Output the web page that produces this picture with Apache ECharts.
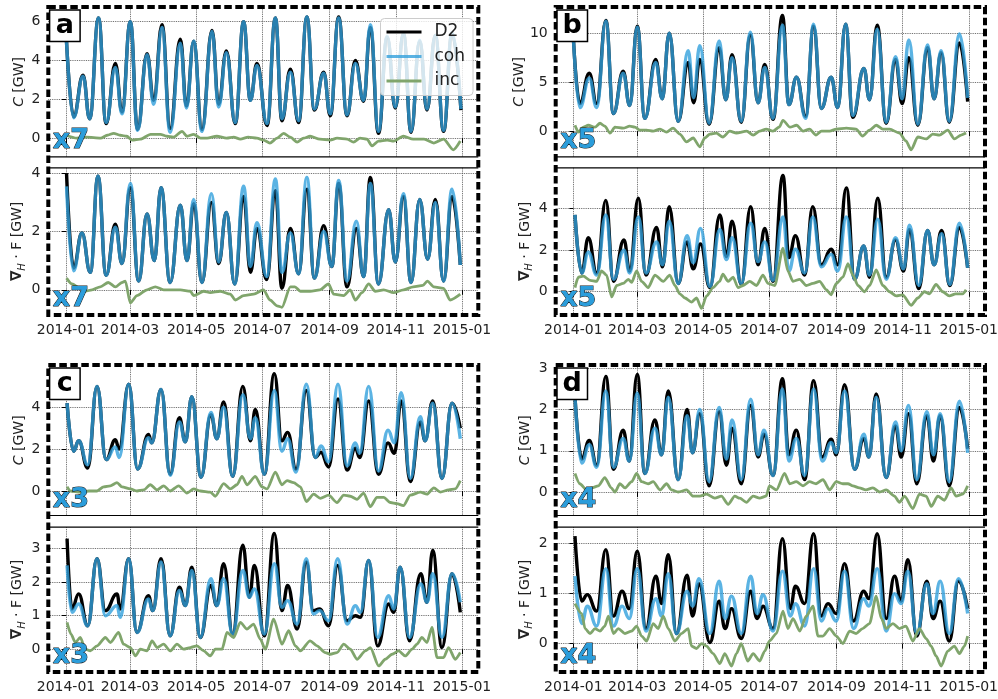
<!DOCTYPE html>
<html><head><meta charset="utf-8">
<script src="https://cdn.jsdelivr.net/npm/echarts@6/dist/echarts.min.js"></script>
<style>html,body{margin:0;padding:0;background:#fff}#c{width:998px;height:699px}</style>
</head><body><div id="c"></div>
<script>
// x axis: days since 2014-01-01
const monthDays = [0,59,120,181,243,304,365];
const monthLabels = ['2014-01','2014-03','2014-05','2014-07','2014-09','2014-11','2015-01'];
const seriesNames = ['D2','coh','inc'];

// rows: [day, D2, coh]
const aC = [[0,5.5,5.5],[7,1.1,1.05],[15.7,3.25,3.2],[21.8,1.0,1.0],[30,6.2,6.2],[37,0.75,0.8],[45.5,3.85,3.65],[51.6,1.35,1.25],[59.3,6.0,6.0],[66,0.45,0.4],[74.7,4.35,4.3],[80.8,1.95,1.75],[88.5,5.85,5.7],[96,0.5,0.3],[105.4,5.1,4.9],[111,1.65,1.55],[117.7,5.0,5.0],[125.3,0.45,0.35],[134.6,5.55,5.5],[140.7,1.75,1.6],[147.8,4.5,4.4],[156,0.75,0.8],[163.7,6.0,6.0],[169.9,1.95,1.95],[176,3.85,3.75],[185.3,0.65,0.75],[193,6.2,6.2],[199,0.9,1.0],[206.8,3.55,3.4],[214.4,0.8,0.9],[222,6.25,6.25],[228.9,1.45,1.5],[237.5,3.4,3.35],[243.6,1.15,1.25],[251.3,6.25,6.2],[259,1.15,1.2],[266.7,4.0,3.85],[274.3,1.9,1.95],[280.5,5.7,5.85],[288,0.25,0.35],[296,5.2,5.25],[303.5,1.55,1.6],[311,5.4,5.4],[318,0.3,0.35],[326,5.0,5.05],[332.7,1.45,1.5],[340.4,5.3,5.3],[348,0.35,0.4],[355.8,5.4,5.45],[364,1.45,1.5]];
const aC_inc = [[0,0.15],[10,0],[19,0.05],[32,0],[38,0.15],[44,0.25],[50,0.15],[56,0.1],[61,-0.1],[68.5,-0.05],[78,0.2],[87,0.2],[93,0.1],[99,0.05],[107,0.35],[111.5,0.1],[117.7,0.2],[124,0],[130,0],[139,0.1],[148,0],[154.5,0.05],[160.7,-0.05],[168,0.05],[176,0],[182,-0.1],[188,-0.25],[194.5,0],[200.6,0.25],[206.8,0.05],[213,-0.2],[219,0],[225,0.1],[234,-0.05],[243.6,-0.1],[249.8,0],[259,-0.05],[265,-0.2],[271,0],[277.4,-0.05],[282,-0.4],[288,-0.15],[296,-0.1],[302,-0.15],[311,0.1],[320,-0.05],[330,-0.05],[339,-0.25],[348,-0.05],[357,-0.6],[363.4,-0.15]];

const aF = [[0.5,4.0,3.55],[7,0.75,0.65],[14.7,1.95,1.95],[22.4,0.6,0.6],[29.5,3.9,3.9],[37,0.5,0.5],[45.5,2.25,2.15],[51.6,0.9,0.9],[59.3,3.5,3.65],[67,0.3,0.3],[74.7,2.6,2.6],[81.4,1.0,1.0],[87.6,3.5,3.5],[96,0.25,0.25],[105.4,2.9,2.9],[111.5,1.0,1.0],[117.7,2.95,3.1],[125.3,0.25,0.25],[134,3.0,3.3],[140.7,0.9,0.95],[147.8,2.65,2.65],[155.5,0.2,0.2],[163.7,3.2,3.55],[170,0.6,0.8],[176,2.1,2.3],[185,0.35,0.45],[193,3.4,3.8],[199,0.05,0.6],[206.8,2.1,1.95],[214.4,0.55,0.55],[222,3.45,3.85],[229,0.4,0.4],[237.5,2.2,2.0],[245,0.8,0.8],[251.3,3.65,3.75],[259,0.1,0.3],[267.6,2.1,2.35],[274.3,0.45,0.45],[280.5,3.85,3.65],[288,0.2,0.2],[297.4,2.75,2.75],[303.5,0.95,0.95],[311,3.2,3.3],[318,0.25,0.25],[326,3.1,3.1],[333.3,1.05,1.05],[340.4,3.1,3.0],[348,0.3,0.3],[355.8,3.2,3.45],[363.4,0.85,0.85]];
const aF_inc = [[0.5,0.4],[5.5,0.2],[13,0.05],[18,-0.05],[24,0],[31.6,0.1],[39,0.25],[45.5,0.1],[51.6,0.25],[54.7,0.3],[59.3,-0.45],[65.4,-0.2],[74.7,0],[82.3,0.1],[90,0],[96,0],[105.4,0],[114.6,-0.05],[117.7,-0.2],[127,-0.05],[133,-0.1],[142,-0.05],[151.5,-0.15],[156,-0.35],[163.7,-0.2],[173,-0.15],[182,0],[188,-0.35],[194.5,-0.55],[199,-0.6],[206.8,0.1],[211,0.1],[216,-0.05],[225,-0.05],[234,0],[242,0.2],[246.7,-0.15],[256,-0.2],[262,0],[266.7,-0.35],[272.8,-0.1],[279,0.2],[285,-0.05],[292.8,0],[302,-0.1],[311,0],[320,0.1],[329,0.15],[333,0.3],[339,0.1],[348,0.05],[354,-0.35],[363.4,-0.15]];

const bC = [[0,9.5,9.5],[6,2.8,2.4],[14.7,5.9,5.4],[21.5,2.8,2.4],[30,11.3,11.2],[37,1.8,1.8],[46,6.1,5.9],[52,2.6,2.6],[59,10.7,10.6],[66,1.3,1.3],[76,7.3,7.0],[82,3.3,3.3],[88.5,10.0,10.0],[96.8,1.0,1.0],[106,7.0,8.2],[111,2.9,3.4],[116.7,7.3,8.7],[125.3,0.7,0.8],[134.6,8.5,9.2],[140.7,3.2,3.2],[146.5,7.8,7.5],[155,0.9,1.0],[163.4,9.8,10.1],[170.5,2.9,2.9],[176.7,6.8,6.5],[184.3,1.2,1.3],[193,11.8,10.8],[199,2.7,2.7],[206,5.5,5.5],[214.4,1.5,1.3],[221.8,10.7,10.9],[228.9,2.3,2.3],[238,5.5,5.5],[244,2.4,2.4],[251.3,10.9,10.9],[258,1.4,1.6],[268.2,6.4,6.4],[273.4,3.2,3.2],[280.5,10.8,10.4],[288.8,0.8,0.9],[297.4,7.3,7.6],[303.5,2.8,3.3],[309.7,7.5,9.3],[318,0.6,0.7],[327,8.5,8.8],[333,3.3,3.3],[339.5,8.0,8.2],[347,0.9,1.0],[356.4,9.0,9.9],[364,3.0,3.4]];
const bC_inc = [[1.5,0.6],[4.6,-0.1],[9.2,0.4],[13.8,0.6],[20,0.4],[24.6,0.8],[29,0.5],[33.8,-0.2],[38.4,0.4],[46,0.3],[52,0.5],[56.8,0.4],[61.4,0.1],[67.6,0.1],[73.7,0],[80,0.2],[86,-0.1],[92,0.3],[98.3,-0.3],[104.5,-1.1],[110.6,-0.7],[116.7,-1.6],[121.4,-0.7],[126,-0.3],[132,-0.2],[138,-0.6],[144.4,0],[150.5,-0.2],[160,0],[166,-0.4],[172,0],[178,0.2],[184.3,0],[190,0.4],[193.5,1.1],[200,0.4],[206,0.6],[212,0],[218,0.2],[224,-0.4],[229,0],[236.6,0],[242.7,0.2],[252,0.3],[261,0.2],[267,-0.5],[273.4,0.1],[279.6,0.6],[285.7,0.2],[292,0.2],[301,-0.2],[307,-1.0],[311.8,-1.9],[318,-0.6],[325.8,-0.8],[331.8,-0.3],[338,-0.4],[345.6,0.1],[351.7,-0.8],[357.9,-0.4],[362.5,-0.2]];

const bF = [[1.5,3.7,3.7],[7.7,0.9,0.9],[13.8,2.6,1.9],[21.5,0.9,0.8],[30,4.4,3.7],[37,0.5,0.6],[46.7,2.5,2.0],[52,1.0,0.9],[60,4.5,3.6],[67,0.8,0.9],[76.8,3.1,2.4],[82.3,1.2,1.3],[88.5,4.1,3.4],[96.8,0.4,0.4],[105,2.4,2.7],[110.6,1.1,1.4],[117.4,2.3,3.05],[126,0.2,0.25],[135.2,3.7,3.0],[141.3,1.7,1.55],[146.5,3.4,2.6],[155,0.35,0.4],[163.7,4.1,3.3],[170.5,1.3,1.45],[176.7,3.05,2.4],[184.3,0.5,0.55],[193.5,5.6,3.6],[199,1.65,1.0],[205,2.7,2.05],[213.5,0.8,0.9],[221,4.1,3.6],[229,1.3,1.2],[238,2.05,1.8],[244,1.3,1.0],[252,5.0,3.6],[259.6,0.6,0.6],[268,2.2,2.2],[273.4,0.7,0.8],[281,4.5,3.5],[288.8,0.7,0.6],[297.4,2.5,2.6],[304.8,1.0,1.1],[310.3,3.0,3.2],[318.8,0.15,0.3],[327,2.95,2.95],[333,1.3,1.3],[340,2.95,2.8],[347.5,0.3,0.35],[356.4,3.1,3.3],[364,1.15,1.15]];
const bF_inc = [[1.5,0.2],[4.6,0.7],[9.2,0.75],[15.4,0.55],[21.5,0.5],[26,1.0],[30.7,0.8],[35.3,-0.25],[40,0.3],[46,0.4],[50.7,0.6],[53.8,0.45],[58.4,1.0],[63,0.5],[69,0.2],[75.3,0.8],[83,0.5],[89,0.8],[93.7,0.3],[98.3,-0.1],[103,-0.3],[109,-0.5],[113.7,-0.3],[118.3,-0.8],[123,-0.2],[129,0.2],[135,0.5],[138,0.85],[142.9,0.5],[147.5,0.7],[152,0.2],[156.7,0.3],[162.8,0.5],[169,0.3],[175,0.8],[179.7,0.4],[185.9,0.3],[193.5,2.1],[198,1.0],[202.8,0.5],[209,0.6],[215,0.3],[221.2,0.4],[227.3,0.5],[233.5,0.1],[238,-0.15],[242.7,0.4],[248.8,0.7],[253.5,1.35],[258,0.8],[262.7,0.3],[268.8,0],[273.4,0.3],[279.6,1.05],[285.7,0.3],[291.9,0],[298,-0.2],[304,-0.15],[311.8,-0.65],[318,-0.3],[324,0],[328.7,-0.1],[334.8,0.35],[341,0],[347,-0.2],[353,-0.1],[359.4,-0.1],[362.5,0.1]];

const cC = [[1,4.2,4.2],[7,1.9,1.9],[11.7,2.4,2.4],[20,1.1,1.25],[28.6,5.0,5.0],[37,1.5,1.5],[45.5,2.45,2.1],[49,2.0,1.6],[57.8,5.1,5.1],[66,1.05,1.05],[76,2.7,2.55],[79,2.3,2.3],[87.6,4.85,4.85],[96,0.8,0.75],[104.5,3.5,3.3],[110,2.35,2.35],[116,4.5,4.5],[124.4,0.65,0.65],[133.6,3.65,3.75],[139,2.5,2.5],[145.3,4.25,4.0],[153.6,0.7,0.7],[163,5.0,4.6],[170,2.4,2.5],[174.5,3.9,3.5],[182.8,0.8,0.8],[192,5.6,4.8],[199,2.4,1.9],[204.3,2.8,2.5],[212,1.05,0.9],[221.5,4.8,5.1],[229.8,1.6,1.6],[235,1.85,2.15],[242,1.15,1.4],[250.7,4.4,5.1],[259,1.0,1.2],[266.7,2.05,2.3],[270.7,1.6,1.8],[279,4.3,5.0],[288,0.8,0.95],[296.8,2.3,2.9],[302.6,1.8,2.3],[309,4.3,4.7],[317.4,0.45,0.6],[326.6,3.3,3.55],[331,2.4,2.4],[338,4.3,4.2],[346.5,0.6,0.6],[355.8,4.2,4.2],[363.4,3.0,2.5]];
const cC_inc = [[1,0.2],[4,0],[13,-0.05],[21,0],[28.6,0],[34.7,0.2],[40.9,0.25],[47,0.4],[51.6,0.2],[59.3,0.1],[65.4,0],[71.6,0.05],[77.7,0.3],[83.9,0.05],[90,0.25],[96,0],[103.8,0.25],[111.5,-0.1],[117.7,0.1],[123.8,0],[133,-0.05],[137.6,-0.25],[145.3,0.35],[151.5,0.1],[157.6,0.3],[162.2,0.7],[166.8,0.3],[174.5,0.7],[180.6,0.2],[185.3,0.1],[193,0.9],[199,0.3],[203.7,0.5],[209.8,0.4],[216,0.2],[221.5,-0.5],[228.3,-0.15],[234.4,-0.35],[242,-0.2],[249.8,-0.55],[256,-0.2],[262,-0.25],[268.2,-0.4],[274.3,-0.1],[280.5,-0.75],[286.6,-0.3],[292.8,-0.3],[299,-0.55],[305,-0.6],[311,-0.7],[317.4,-0.2],[326.6,-0.05],[332.7,-0.15],[339,0.15],[345,-0.05],[352.6,0.05],[358.7,0.1],[363.4,0.5]];

const cF = [[1,3.3,2.5],[5.5,1.2,1.1],[11.7,1.65,1.35],[20,0.7,0.7],[28.6,2.7,2.7],[36.3,1.15,1.0],[47,1.65,1.3],[50,1.2,0.95],[57.8,2.7,2.7],[65.4,0.5,0.5],[76,1.6,1.5],[80,1.15,1.15],[87.6,2.7,2.6],[96,0.4,0.4],[104.5,1.85,1.75],[110,1.3,1.3],[116,2.45,2.35],[123.8,0.35,0.35],[133.6,1.9,2.1],[139,1.3,1.3],[145.3,2.55,2.1],[153.6,0.45,0.45],[163,3.1,2.35],[169,1.55,1.55],[173.6,2.5,1.8],[182.8,0.4,0.45],[192,3.45,2.55],[199,1.15,1.25],[204.3,1.9,1.45],[213,0.6,0.75],[221.5,2.6,2.7],[228,1.15,1.05],[233.8,1.2,1.15],[242,0.7,0.85],[250.4,2.5,2.7],[259,0.85,0.75],[266.7,1.0,1.3],[271.3,0.95,1.1],[279,2.65,2.65],[287.2,0.1,0.35],[297.4,1.35,1.6],[302,1.1,1.2],[308,2.45,2.45],[316.6,0.25,0.35],[327,2.25,1.95],[332.7,1.4,1.4],[338,2.95,2.25],[346.5,0.05,0.35],[355.8,2.25,2.25],[363.4,1.1,1.4]];
const cF_inc = [[1,0.8],[4.6,0.45],[8.6,0.2],[13.2,0.35],[17.8,0],[22.4,-0.05],[28.6,0.1],[36.3,0.35],[40.9,0.2],[48.5,0.5],[53,0.15],[59.3,0.05],[64,-0.2],[68.5,0],[74.7,-0.05],[79.3,0.25],[83.9,0.05],[90,0.15],[96,-0.05],[102.3,0.15],[108.4,0],[114.6,0.05],[120.7,0.1],[126.9,-0.05],[133,-0.2],[137.6,0],[143.8,0],[148.4,0.5],[154.5,0.35],[160.7,0.8],[166.8,0.6],[172.9,0.75],[179,0.3],[183.7,0],[191.4,0.9],[199,0.15],[205.2,0.55],[211.4,0.1],[216,-0.05],[225,0.25],[231.3,0.1],[239,-0.1],[243.6,-0.15],[249.8,-0.1],[256,0.15],[262,0],[268.2,-0.3],[275.9,-0.05],[280.5,0.05],[288.2,-0.5],[294.3,-0.3],[300.5,-0.15],[306.6,-0.05],[312.7,-0.2],[319,0],[323.5,0.15],[328,0.35],[332.7,0.2],[337.3,0.65],[342,-0.25],[348,-0.25],[352.6,0.05],[358.7,-0.3],[363.4,-0.1]];

const dC = [[1.5,2.3,2.3],[7.7,0.8,0.7],[14.7,1.25,1.15],[21.5,0.65,0.6],[30,2.8,2.45],[37,0.55,0.6],[46,1.5,1.3],[51.6,0.75,0.75],[59,2.85,2.4],[66,0.45,0.45],[75.3,1.75,1.55],[81.4,0.9,0.9],[87.6,2.45,2.3],[96.8,0.3,0.3],[105,2.0,1.85],[110,0.95,0.95],[116.7,1.9,2.0],[125.3,0.15,0.25],[134.6,1.95,2.05],[141.3,0.65,0.8],[146.5,1.55,1.75],[155,0.2,0.3],[163.7,2.1,2.25],[170.5,0.85,0.9],[176,1.4,1.5],[184.3,0.4,0.4],[193,2.75,2.5],[199,0.9,0.75],[205.8,1.5,1.3],[213.5,0.3,0.4],[221.8,2.7,2.5],[229.8,0.85,0.75],[238,1.28,1.2],[242.7,0.9,0.95],[250.4,2.6,2.45],[259.6,0.55,0.55],[268.2,1.3,1.4],[272.8,0.85,0.85],[279.6,2.38,2.3],[288.8,0.35,0.35],[297.4,1.6,1.7],[302.6,0.85,1.0],[309.4,1.9,2.1],[317,0.2,0.3],[326.3,1.85,1.95],[332.4,0.75,0.9],[338.6,1.85,1.9],[347,0.15,0.25],[356.4,2.05,2.2],[364,1.05,0.95]];
const dC_inc = [[1.5,0.45],[6,0.2],[12.3,0.05],[17,0.1],[23,0.15],[29,0.35],[35,0.1],[38.4,0],[43,0.2],[47.6,0.1],[53.8,0.25],[58.4,0.45],[63,0.25],[69,0.2],[73.7,0.25],[80,0.05],[86,0.2],[90.6,0.05],[96.8,0],[104.5,0.05],[110.6,-0.1],[116.7,-0.1],[122.9,-0.05],[130.6,-0.15],[136.7,-0.1],[142.9,-0.3],[149,-0.1],[153.6,-0.15],[159.8,-0.25],[165.9,-0.1],[172,-0.15],[178,-0.1],[181,0.15],[187.4,0.05],[195,0.45],[199.7,0.2],[205.8,0.25],[212,0.15],[218,0.25],[224,0.2],[230.4,0.3],[236.6,0.05],[242.7,0.25],[248.8,0.2],[253.5,0.2],[258,0.15],[264,0.1],[270,0.05],[276.5,0.1],[282.6,0],[288.8,0.05],[296.5,-0.1],[301,-0.25],[305.7,-0.1],[313.4,-0.4],[319.5,-0.05],[325.7,-0.1],[330.3,-0.35],[336.4,-0.1],[342.5,-0.2],[348.7,0.1],[353.3,-0.1],[359.4,-0.05],[364,0.15]];

const dF = [[1.5,2.15,1.35],[7.7,0.85,0.4],[12.9,0.98,0.75],[21.5,0.65,0.35],[30,1.88,1.5],[37,0.55,0.35],[45,1.05,0.75],[51.6,0.7,0.5],[59,1.85,1.5],[67,0.3,0.25],[76.2,1.35,0.9],[81.4,0.8,0.55],[87.6,1.78,1.4],[95.2,0.2,0.2],[105,1.37,1.05],[110,0.55,0.75],[116,1.2,1.3],[126,0.02,0.2],[134.6,0.85,1.25],[140,0.3,0.5],[146,0.7,0.95],[155,0.1,0.2],[163.7,1.05,1.35],[169.6,0.5,0.6],[175,0.75,0.98],[184.3,0.3,0.25],[193,2.1,1.45],[200.3,0.7,0.55],[205,1.15,0.8],[213.5,0.8,0.35],[221.8,2.2,1.5],[229,0.55,0.45],[235,0.8,0.7],[242.7,0.6,0.45],[250.4,1.6,1.45],[258.7,0.45,0.3],[268,1.05,0.9],[272.8,0.9,0.75],[280.5,2.2,1.5],[288.8,0.5,0.25],[296.5,1.35,1.0],[302.6,0.85,0.8],[308.8,1.68,1.45],[317,0.15,0.2],[326.3,1.25,1.2],[332,0.5,0.6],[338.6,0.85,1.25],[347,0.05,0.2],[355.5,1.25,1.3],[364,0.7,0.6]];
const dF_inc = [[1.5,0.8],[7.7,0.6],[10.8,0.3],[15.4,0.2],[20,0.3],[24.6,0.25],[29,0.35],[32.3,0.55],[37,0.2],[41.5,0.3],[47.6,0.2],[53.8,0.25],[58.4,0.35],[63,0.15],[67.6,0.05],[73.7,0.4],[78.3,0.3],[83,0.55],[87.6,0.3],[93.7,0.05],[99.8,0.2],[106,0.3],[109,-0.05],[113.7,-0.1],[118.3,0],[122.9,-0.05],[129,-0.2],[135.2,-0.4],[139.8,-0.2],[146,-0.45],[150.5,-0.2],[155,0],[161,-0.35],[166,-0.2],[172,-0.35],[176.7,-0.15],[181,0.05],[187.4,0.2],[193.5,0.65],[198,0.3],[202.8,0.5],[209,0.25],[215,0.55],[221.2,0.75],[225.8,0.15],[230.4,0.15],[236.6,0.3],[242.7,0.15],[248.8,0],[255,0.25],[261,0.2],[267,0.3],[273.4,0.4],[279.6,0.95],[284.3,0.5],[288.8,0.3],[295,0.4],[301,0.3],[307,0.35],[313.4,0.05],[319.5,0.3],[325.7,0.1],[330.3,-0.05],[334.8,-0.25],[339.5,-0.45],[345.6,-0.15],[351.7,-0.05],[356.4,-0.2],[361,-0.05],[364,0.15]];

// y tick values per subplot
const ticksAC = [0,2,4,6], ticksAF = [0,2,4], ticksBC = [0,5,10], ticksBF = [0,2,4];
const ticksCC = [0,2,4], ticksCF = [0,1,2,3], ticksDC = [0,1,2,3], ticksDF = [0,1,2];
const panelLetters = ['a','b','c','d'];
const scaleLabels = ['x7','x5','x3','x4'];

const FONT = 'DejaVu Sans';
const TXT = '#222';
const colL = {left:48.3, width:430};
const colR = {left:555.7, width:429.3};
const rowsTop = [{top:7, height:149.9},{top:167.8, height:147.2}];
const rowsBot = [{top:365, height:150.5},{top:527.2, height:144.8}];

const subplots = [
  {col:colL, row:rowsTop[0], yr:[-0.965,6.76], ticks:ticksAC, kind:'C', gap:19, xlab:false, tbl:aC, inc:aC_inc, sc:0},
  {col:colL, row:rowsTop[1], yr:[-0.865,4.185], ticks:ticksAF, kind:'F', gap:20, xlab:true, tbl:aF, inc:aF_inc, sc:0},
  {col:colR, row:rowsTop[0], yr:[-2.63,12.66], ticks:ticksBC, kind:'C', gap:26, xlab:false, tbl:bC, inc:bC_inc, sc:1},
  {col:colR, row:rowsTop[1], yr:[-1.12,5.97], ticks:ticksBF, kind:'F', gap:20, xlab:true, tbl:bF, inc:bF_inc, sc:1},
  {col:colL, row:rowsBot[0], yr:[-1.17,6.02], ticks:ticksCC, kind:'C', gap:19, xlab:false, tbl:cC, inc:cC_inc, sc:2},
  {col:colL, row:rowsBot[1], yr:[-0.68,3.64], ticks:ticksCF, kind:'F', gap:20, xlab:true, tbl:cF, inc:cF_inc, sc:2},
  {col:colR, row:rowsBot[0], yr:[-0.57,3.08], ticks:ticksDC, kind:'C', gap:20, xlab:false, tbl:dC, inc:dC_inc, sc:3},
  {col:colR, row:rowsBot[1], yr:[-0.57,2.33], ticks:ticksDF, kind:'F', gap:20, xlab:true, tbl:dF, inc:dF_inc, sc:3}
];

const COL_D2 = '#000000';
const COL_COH = 'rgba(50,160,220,0.8)';
const COL_INC = '#80a56c';

const grids = [], xAxes = [], yAxes = [], series = [], graphics = [];
const nameRich = {
  i:{fontStyle:'italic', fontSize:14, fontFamily:FONT, color:TXT},
  n:{fontSize:14, fontFamily:FONT, color:TXT, lineHeight:20, verticalAlign:'middle'},
  b:{fontSize:15, fontWeight:'bold', fontFamily:FONT, color:TXT, lineHeight:20, verticalAlign:'middle'},
  s:{fontSize:10, fontFamily:FONT, fontStyle:'italic', color:TXT, lineHeight:9, verticalAlign:'bottom'}
};
subplots.forEach((s, i) => {
  grids.push({left:s.col.left, top:s.row.top, width:s.col.width, height:s.row.height, show:false, outerBoundsMode:'none'});
  xAxes.push({
    type:'value', gridIndex:i, min:-16.3, max:380,
    axisLine:{show:false},
    axisTick:{show:true, length:5, lineStyle:{color:'#000', width:1}, customValues:monthDays},
    axisLabel:{show:s.xlab, customValues:monthDays, formatter:v => { const k = monthDays.indexOf(v); return k >= 0 ? monthLabels[k] : ''; },
      fontSize:14, color:TXT, fontFamily:FONT, margin:8},
    splitLine:{show:true, lineStyle:{type:'dotted', color:'#555', width:0.9}}
  });
  yAxes.push({
    type:'value', gridIndex:i, min:s.yr[0], max:s.yr[1],
    axisLine:{show:false},
    axisTick:{show:true, length:4, lineStyle:{color:'#000', width:1}, customValues:s.ticks},
    axisLabel:{customValues:s.ticks, fontSize:14, color:TXT, fontFamily:FONT, margin:8},
    splitLine:{show:true, lineStyle:{type:'dotted', color:'#555', width:0.9}},
    name: s.kind === 'C' ? '{i|C}{n| [GW]}' : '{b|∇}{s|H}{n| · F [GW]}',
    nameLocation:'middle', nameGap:s.gap,
    nameTextStyle:{fontSize:14, color:TXT, fontFamily:FONT, rich:nameRich}
  });
  const common = {type:'line', xAxisIndex:i, yAxisIndex:i, showSymbol:false, symbol:'none', smooth:0.45, smoothMonotone:'x', animation:false, silent:true};
  series.push(Object.assign({}, common, {name:seriesNames[0], data:s.tbl.map(r => [r[0], r[1]]), lineStyle:{color:COL_D2, width:3.4}, itemStyle:{color:COL_D2}, z:2}));
  series.push(Object.assign({}, common, {name:seriesNames[1], data:s.tbl.map(r => [r[0], r[2]]), lineStyle:{color:COL_COH, width:3.4}, itemStyle:{color:COL_COH}, z:3}));
  series.push(Object.assign({}, common, {name:seriesNames[2], data:s.inc, smooth:0.25, lineStyle:{color:COL_INC, width:2.8}, itemStyle:{color:COL_INC}, z:4}));

  // scale label (x7 etc.)
  graphics.push({type:'text', z:120, left:s.col.left + 4, top:s.row.top + s.row.height - 30,
    style:{text:scaleLabels[s.sc], font:'bold 27px ' + FONT, fill:'#2b9ddb', stroke:'#111', lineWidth:1,
      shadowColor:'rgba(0,0,0,0.9)', shadowOffsetX:-2, shadowOffsetY:2, shadowBlur:0}});
});

// separators between the two subplots of each panel
[[colL, rowsTop],[colR, rowsTop],[colL, rowsBot],[colR, rowsBot]].forEach(([c, r]) => {
  const y1 = r[0].top + r[0].height, y2 = r[1].top;
  graphics.push({type:'line', z:110, shape:{x1:c.left, y1:y1, x2:c.left + c.width, y2:y1}, style:{stroke:'#000', lineWidth:1.2}});
  graphics.push({type:'line', z:110, shape:{x1:c.left, y1:y2, x2:c.left + c.width, y2:y2}, style:{stroke:'#000', lineWidth:1.2}});
});
// dashed panel frames + letters
[[colL, rowsTop],[colR, rowsTop],[colL, rowsBot],[colR, rowsBot]].forEach(([c, r], k) => {
  const y0 = r[0].top, y1 = r[1].top + r[1].height;
  graphics.push({type:'rect', z:115, shape:{x:c.left, y:y0, width:c.width, height:y1 - y0},
    style:{fill:'none', stroke:'#000', lineWidth:4, lineDash:[7.5,3.5]}});
  graphics.push({type:'rect', z:116, shape:{x:c.left + 1.3, y:y0 + 3, width:30.5, height:31.5},
    style:{fill:'#fff', stroke:'#000', lineWidth:1.5}});
  graphics.push({type:'text', z:117, x:c.left + 16.5, y:y0 + 19, 
    style:{text:panelLetters[k], font:'bold 27px ' + FONT, fill:'#000', textAlign:'center', textVerticalAlign:'middle'}});
});

const chart = echarts.init(document.getElementById('c'), null, {renderer:'canvas'});
chart.setOption({
  animation:false,
  backgroundColor:'#fff',
  grid:grids, xAxis:xAxes, yAxis:yAxes, series:series,
  legend:{
    data:seriesNames, orient:'vertical', left:380.5, top:18.5,
    icon:'rect', itemWidth:35, itemHeight:3, itemGap:7.5,
    textStyle:{fontSize:17, fontFamily:FONT, color:TXT, padding:[0,0,0,8]},
    backgroundColor:'rgba(255,255,255,0.8)', borderColor:'#ccc', borderWidth:1, borderRadius:4,
    padding:[5,8,6,6], selectedMode:false, z:130
  },
  graphic:graphics
});
</script>
</body></html>
